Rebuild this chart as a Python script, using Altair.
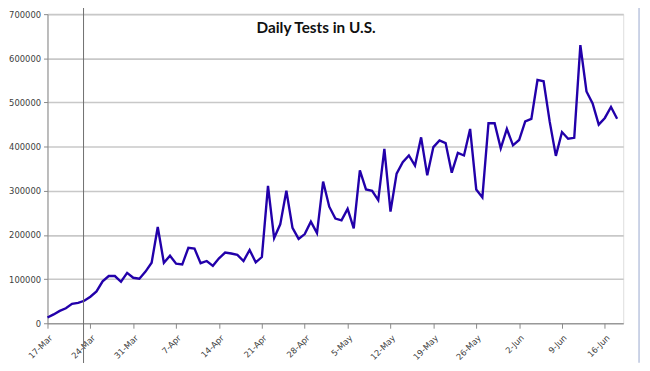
import altair as alt
import pandas as pd

start_date = "2020-03-17"
tests = [
    13000, 20000, 28000, 34000, 44000, 46000, 51000, 60000, 72000, 95000,
    107000, 107000, 94000, 114000, 103000, 101000, 117000, 137000, 218000, 137000,
    153000, 135000, 133000, 171000, 169000, 136000, 141000, 130000, 147000, 160000,
    158000, 155000, 141000, 166000, 138000, 150000, 311000, 193000, 224000, 300000,
    216000, 191000, 202000, 230000, 204000, 321000, 264000, 237000, 233000, 259000,
    215000, 346000, 303000, 300000, 279000, 395000, 253000, 339000, 365000, 380000,
    357000, 421000, 335000, 399000, 414000, 408000, 341000, 386000, 380000, 440000,
    303000, 285000, 453000, 453000, 396000, 440000, 403000, 415000, 457000, 463000,
    551000, 548000, 456000, 379000, 433000, 418000, 420000, 630000, 525000, 498000,
    450000, 465000, 490000, 463000,
]
tick_dates = ["2020-03-17", "2020-03-24", "2020-03-31", "2020-04-07", "2020-04-14",
              "2020-04-21", "2020-04-28", "2020-05-05", "2020-05-12", "2020-05-19",
              "2020-05-26", "2020-06-02", "2020-06-09", "2020-06-16"]
y_ticks = [0, 100000, 200000, 300000, 400000, 500000, 600000, 700000]
chart_title = "Daily Tests in U.S."

dates = pd.date_range(start_date, periods=len(tests)).strftime("%Y-%m-%d").tolist()
df = pd.DataFrame({"date": dates, "tests": tests})


def dt(s):
    y, m, d = (int(p) for p in s.split("-"))
    return alt.DateTime(year=y, month=m, date=d, utc=True)


W, H = 583, 313

line = alt.Chart(df).mark_line(color="#2200AA", strokeWidth=2.4).encode(
    x=alt.X("date:T",
            scale=alt.Scale(type="utc", domain=[dt("2020-03-17"), dt("2020-06-19")]),
            axis=alt.Axis(values=[dt(s) for s in tick_dates],
                          labelExpr="utcFormat(datum.value, '%-d-%b')",
                          labelAngle=-45, title=None, grid=False,
                          domainColor="#888888", tickColor="#888888", tickSize=5,
                          labelFontSize=8.5, labelColor="#404040", labelPadding=5,
                          labelFont="DejaVu Sans")),
    y=alt.Y("tests:Q", scale=alt.Scale(domain=[0, 700000], nice=False),
            axis=alt.Axis(values=y_ticks, format="d", title=None, grid=True,
                          gridColor="#c8c8c8", gridWidth=1.6,
                          domainColor="#888888", tickColor="#888888", tickSize=4,
                          labelFontSize=8.5, labelColor="#404040", labelPadding=3,
                          labelFont="DejaVu Sans")),
)

title = alt.Chart(pd.DataFrame({"t": [chart_title]})).mark_text(
    font="Lato", fontSize=15.5, fontWeight="bold", color="#111111",
    align="center", baseline="middle"
).encode(x=alt.value(272), y=alt.value(14), text="t:N")

marker = alt.Chart(pd.DataFrame({"k": [1]})).mark_rule(
    color="#6e6e6e", strokeWidth=1
).encode(x=alt.value(36.5), y=alt.value(-20), y2=alt.value(380))

frame = alt.Chart(pd.DataFrame({"k": [1]})).mark_rule(
    color="#aab6d6", strokeWidth=1.2
).encode(x=alt.value(599), y=alt.value(-20), y2=alt.value(353))

chart = alt.layer(line, title, marker, frame).properties(
    width=W, height=H,
    autosize=alt.AutoSizeParams(type="none"),
    padding={"left": 40, "top": 4, "right": 19, "bottom": 38},
).configure_view(stroke=None).configure(background="white")

chart.save("out.html", embed_options={"renderer": "svg", "actions": False})
